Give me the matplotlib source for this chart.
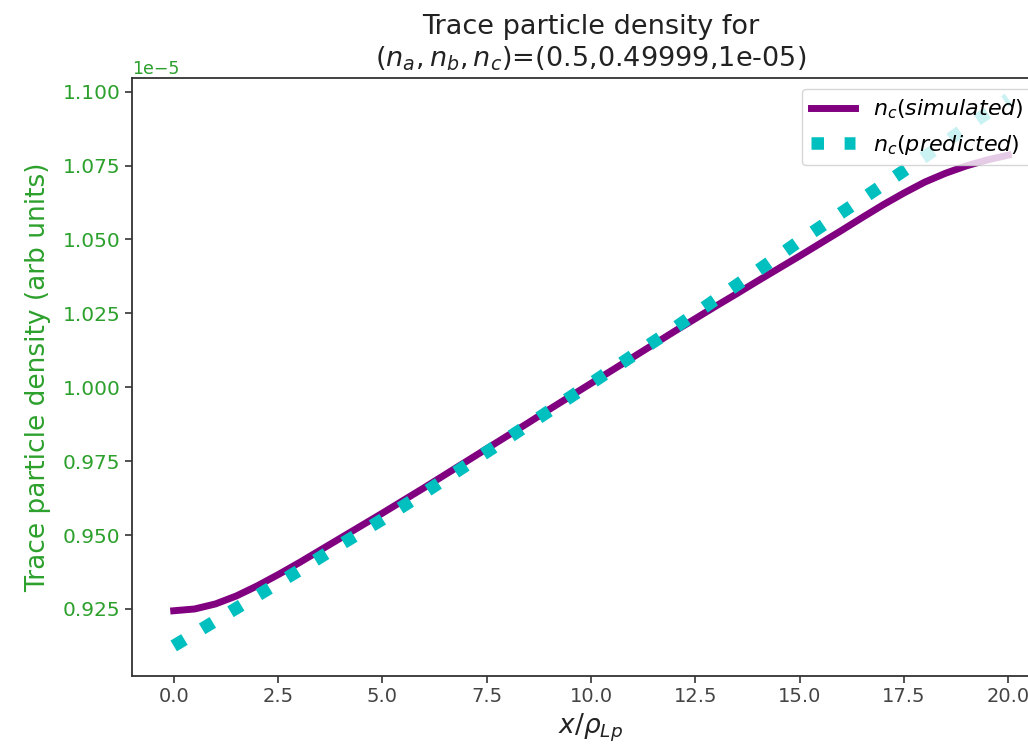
import matplotlib
matplotlib.use("Agg")
import matplotlib.pyplot as plt
import numpy as np

# x positions (x / rho_Lp) for the simulated curve
x_sim = [0.0, 0.5, 1.0, 1.5, 2.0, 2.5, 3.0, 3.5, 4.0, 4.5, 5.0, 5.5, 6.0, 6.5,
         7.0, 7.5, 8.0, 8.5, 9.0, 9.5, 10.0, 10.5, 11.0, 11.5, 12.0, 12.5,
         13.0, 13.5, 14.0, 14.5, 15.0, 15.5, 16.0, 16.5, 17.0, 17.5, 18.0,
         18.5, 19.0, 19.5, 20.0]
# simulated trace density (units of 1e-5)
n_c_simulated = [0.9244, 0.9250, 0.9267, 0.9294, 0.9328, 0.9366, 0.9406, 0.9448,
                 0.9490, 0.9532, 0.9574, 0.9617, 0.9660, 0.9704, 0.9748, 0.9792,
                 0.9836, 0.9880, 0.9925, 0.9969, 1.0013, 1.0057, 1.0101, 1.0145,
                 1.0189, 1.0232, 1.0275, 1.0317, 1.0360, 1.0402, 1.0444, 1.0487,
                 1.0530, 1.0574, 1.0617, 1.0657, 1.0694, 1.0724, 1.0749, 1.0769,
                 1.0785]
# x positions for the predicted curve
x_pred = [0, 1, 2, 3, 4, 5, 6, 7, 8, 9, 10, 11, 12, 13, 14, 15, 16, 17, 18, 19, 20]
# predicted trace density (units of 1e-5)
n_c_predicted = [0.9125, 0.9210, 0.9295, 0.9380, 0.9468, 0.9553, 0.9643, 0.9735,
                 0.9827, 0.9920, 1.0013, 1.0107, 1.0200, 1.0298, 1.0395, 1.0495,
                 1.0590, 1.0685, 1.0780, 1.0880, 1.0975]
scale = 1e-5

GREEN = "#2ca02c"
DARK = "#333333"

fig = plt.figure(figsize=(10.28, 7.48), dpi=100)
ax = fig.add_axes([132 / 1028, 72.5 / 748, 918 / 1028, 597.5 / 748])

ax.plot(np.array(x_sim), np.array(n_c_simulated) * scale, color="purple", lw=5,
        label=r"$n_c(simulated)$")
ax.plot(np.array(x_pred), np.array(n_c_predicted) * scale, color="c", lw=9, ls=":",
        label=r"$n_c(predicted)$")

ax.set_xlim(-1, 21)
ax.set_ylim(0.9025 * scale, 1.1046 * scale)
ax.set_xticks([0, 2.5, 5, 7.5, 10, 12.5, 15, 17.5, 20])

ax.set_title("Trace particle density for\n$(n_a,n_b,n_c)$=(0.5,0.49999,1e-05)",
             fontsize=19.5, color="#222222", pad=8)
ax.set_xlabel(r"$x/\rho_{Lp}$", fontsize=19, color="#222222", labelpad=4)
ax.set_ylabel("Trace particle density (arb units)", fontsize=19, color=GREEN,
              labelpad=8)

ax.tick_params(axis="y", labelsize=14.5, labelcolor=GREEN, color=DARK,
               length=5, width=1.2)
ax.tick_params(axis="x", labelsize=14, labelcolor="#444444", color=DARK,
               length=5, width=1.2)
ax.yaxis.get_offset_text().set_color(GREEN)
ax.yaxis.get_offset_text().set_fontsize(12.5)
for s in ax.spines.values():
    s.set_color(DARK)
    s.set_linewidth(1.3)

ax.legend(loc="upper left", fontsize=16,
          bbox_to_anchor=(802 / 1028, 1 - 89 / 748),
          bbox_transform=fig.transFigure, borderaxespad=0)

fig.savefig("out.png", dpi=100)
